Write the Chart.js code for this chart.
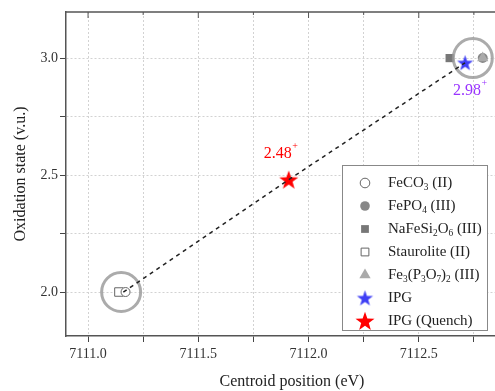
<!DOCTYPE html>
<html>
<head>
<meta charset="utf-8">
<script src="https://cdn.jsdelivr.net/npm/chart.js@4.4.1/dist/chart.umd.min.js"></script>
<style>
  html, body { margin: 0; padding: 0; background: #fff; overflow: hidden; }
  #wrap { position: relative; width: 530px; height: 391px; }
</style>
</head>
<body>
<div id="wrap"><canvas id="chart"></canvas></div>
<script>
// dados
const xTicks = [7111.0, 7111.25, 7111.5, 7111.75, 7112.0, 7112.25, 7112.5, 7112.75];
const yTicks = [2.0, 2.25, 2.5, 2.75, 3.0];

const seriesNames = ['FeCO_3 (II)', 'FePO_4 (III)', 'NaFeSi_2O_6 (III)', 'Staurolite (II)',
                     'Fe_3(P_3O_7)_2 (III)', 'IPG', 'IPG (Quench)'];

const feco3X = [7111.17],   feco3Y = [2.0];
const fepo4X = [7112.79],   fepo4Y = [3.0];
const nafesiX = [7112.64],  nafesiY = [3.0];
const stauroX = [7111.14],  stauroY = [2.0];
const fe3X = [7112.79],     fe3Y = [3.0];
const ipgX = [7112.71],     ipgY = [2.98];
const quenchX = [7111.91],  quenchY = [2.48];

// linha tracejada e círculos de destaque
const trendX = [7111.16, 7111.91, 7112.71];
const trendY = [2.0, 2.48, 2.98];
const ringX = [7111.15, 7112.745];
const ringY = [2.0, 3.0];

const valueLabels = ['2.48', '2.98'];

const FONT = "'Liberation Serif', 'Times New Roman', serif";

function pts(xs, ys) {
    return xs.map((x, i) => ({ x: x, y: ys[i] }));
}

// estrela de 5 pontas preenchida (o 'star' do Chart.js é só traço)
function makeStar(r, color) {
    const c = document.createElement('canvas');
    const s = Math.ceil(r * 2 + 2);
    c.width = s; c.height = s;
    const g = c.getContext('2d');
    g.translate(s / 2, s / 2 + r * 0.08);
    g.beginPath();
    for (let i = 0; i < 10; i++) {
        const rad = i % 2 === 0 ? r : r * 0.4;
        const a = -Math.PI / 2 + i * Math.PI / 5;
        g.lineTo(Math.cos(a) * rad, Math.sin(a) * rad);
    }
    g.closePath();
    g.fillStyle = color;
    g.fill();
    return c;
}

const blueStar = makeStar(8.5, '#3f3ff5');
const redStar = makeStar(10, '#ff0000');

// texto com subscrito: "_3" vira índice
function drawRich(ctx, str, x, y, size) {
    const parts = str.split(/(_\d)/);
    let cx = x;
    parts.forEach(p => {
        if (!p) return;
        if (p[0] === '_') {
            ctx.font = (size * 0.62) + 'px ' + FONT;
            ctx.fillText(p.slice(1), cx, y + size * 0.32);
            cx += ctx.measureText(p.slice(1)).width;
        } else {
            ctx.font = size + 'px ' + FONT;
            ctx.fillText(p, cx, y);
            cx += ctx.measureText(p).width;
        }
    });
    return cx;
}

const datasets = [
    { label: 'trend', data: pts(trendX, trendY), showLine: true, borderColor: '#222',
      borderWidth: 1.5, borderDash: [4, 4], pointRadius: 0, order: 0 },
    { label: 'ring', data: pts(ringX, ringY), pointStyle: 'circle', pointRadius: 19.5,
      borderWidth: 3, borderColor: 'rgba(150,150,150,0.8)', backgroundColor: 'rgba(0,0,0,0)', order: 1 },
    { label: seriesNames[0], data: pts(feco3X, feco3Y), pointStyle: 'circle', pointRadius: 4.5,
      borderWidth: 1, borderColor: '#666', backgroundColor: '#fff', order: 3 },
    { label: seriesNames[1], data: pts(fepo4X, fepo4Y), pointStyle: 'circle', pointRadius: 5,
      borderWidth: 0, borderColor: '#888', backgroundColor: '#888', order: 4 },
    { label: seriesNames[2], data: pts(nafesiX, nafesiY), pointStyle: 'rect', pointRadius: 5.8,
      borderWidth: 0, borderColor: '#777', backgroundColor: '#777', order: 4 },
    { label: seriesNames[3], data: pts(stauroX, stauroY), pointStyle: 'rect', pointRadius: 6,
      borderWidth: 1, borderColor: '#666', backgroundColor: '#fff', order: 5 },
    { label: seriesNames[4], data: pts(fe3X, fe3Y), pointStyle: 'triangle', pointRadius: 6.5,
      borderWidth: 0, borderColor: '#aaa', backgroundColor: '#aaa', order: 3 },
    { label: seriesNames[5], data: pts(ipgX, ipgY), pointStyle: blueStar, pointRadius: 8,
      order: 2, labelColor: '#9933ff', labelDx: 2, labelDy: 28, valueText: valueLabels[1] },
    { label: seriesNames[6], data: pts(quenchX, quenchY), pointStyle: redStar, pointRadius: 9,
      order: 2, labelColor: '#ff0000', labelDx: -11, labelDy: -26, valueText: valueLabels[0] }
];

// legenda própria (precisa de subscrito) + moldura superior + rótulos 2.48+/2.98+
const extrasPlugin = {
    id: 'extras',
    afterDatasetsDraw(chart) {
        const ctx = chart.ctx;
        const area = chart.chartArea;
        const xs = chart.scales.x;
        ctx.save();

        // borda superior e ticks internos
        ctx.strokeStyle = '#555';
        ctx.lineWidth = 1.5;
        ctx.beginPath();
        ctx.moveTo(area.left, area.top);
        ctx.lineTo(area.right, area.top);
        ctx.stroke();
        ctx.lineWidth = 1;
        xTicks.forEach(v => {
            const px = xs.getPixelForValue(v);
            const len = Math.abs(v * 2 - Math.round(v * 2)) < 1e-6 ? 6 : 3;
            ctx.beginPath();
            ctx.moveTo(px, area.top);
            ctx.lineTo(px, area.top + len);
            ctx.stroke();
        });

        // rótulos de valor com "+" sobrescrito
        chart.data.datasets.forEach((ds, i) => {
            if (!ds.valueText) return;
            const el = chart.getDatasetMeta(i).data[0];
            ctx.fillStyle = ds.labelColor;
            ctx.font = '16px ' + FONT;
            ctx.textBaseline = 'middle';
            const w = ctx.measureText(ds.valueText).width;
            const tx = el.x + ds.labelDx - w / 2;
            const ty = el.y + ds.labelDy;
            ctx.fillText(ds.valueText, tx, ty);
            ctx.font = '10px ' + FONT;
            ctx.fillText('+', tx + w + 0.5, ty - 7);
        });

        // caixa da legenda
        const box = { left: 342, top: 165, width: 145, height: 165 };
        ctx.fillStyle = '#fff';
        ctx.fillRect(box.left, box.top, box.width, box.height);
        ctx.strokeStyle = '#888';
        ctx.lineWidth = 1;
        ctx.strokeRect(box.left + 0.5, box.top + 0.5, box.width, box.height);

        const items = chart.data.datasets.filter(ds => seriesNames.includes(ds.label));
        items.forEach((ds, k) => {
            const y = box.top + 18 + k * 23;
            const mx = box.left + 23;
            ctx.fillStyle = ds.backgroundColor || '#000';
            ctx.strokeStyle = ds.borderColor || '#000';
            ctx.lineWidth = ds.borderWidth || 0;
            Chart.helpers.drawPoint(ctx, {
                pointStyle: ds.pointStyle, rotation: 0,
                radius: ds.pointStyle === 'circle' ? 4.8 : (ds.pointStyle === 'rect' ? 5.5 : ds.pointRadius),
                borderWidth: ds.borderWidth || 0
            }, mx, y);
            ctx.fillStyle = '#222';
            ctx.textBaseline = 'middle';
            drawRich(ctx, ds.label, box.left + 46, y, 15);
        });
        ctx.restore();
    }
};

const ctx = document.getElementById('chart').getContext('2d');
const chart = new Chart(ctx, {
    type: 'scatter',
    data: { datasets: datasets },
    options: {
        responsive: true,
        maintainAspectRatio: false,
        animation: false,
        layout: { autoPadding: false, padding: { top: 12, right: 12, left: 0, bottom: 0 } },
        plugins: { legend: { display: false }, tooltip: { enabled: false } },
        scales: {
            x: {
                type: 'linear',
                min: 7110.9,
                max: 7112.95,
                afterBuildTicks: s => { s.ticks = xTicks.map(v => ({ value: v })); },
                afterFit: s => { s.height = 55; },
                ticks: {
                    autoSkip: false, maxRotation: 0, padding: 4,
                    color: '#333', font: { family: FONT, size: 14 },
                    callback: v => Math.abs(v * 2 - Math.round(v * 2)) < 1e-6 ? v.toFixed(1) : ''
                },
                grid: { color: '#d2d2d2', tickColor: '#444', tickBorderDash: [],
                        tickLength: 6, tickWidth: 1 },
                border: { color: '#555', width: 1.5, dash: [2, 2] },
                title: { display: true, text: 'Centroid position (eV)', color: '#222',
                         font: { family: FONT, size: 16 }, padding: { top: 0, bottom: 0 } }
            },
            y: {
                type: 'linear',
                min: 1.812,
                max: 3.197,
                afterBuildTicks: s => { s.ticks = yTicks.map(v => ({ value: v })); },
                afterFit: s => { s.width = 66; },
                ticks: {
                    autoSkip: false, padding: 2,
                    color: '#333', font: { family: FONT, size: 14 },
                    callback: v => Math.abs(v * 2 - Math.round(v * 2)) < 1e-6 ? v.toFixed(1) : ''
                },
                grid: { color: '#d2d2d2', tickColor: '#444', tickBorderDash: [],
                        tickLength: 6, tickWidth: 1 },
                border: { color: '#555', width: 1.5, dash: [2, 2] },
                title: { display: true, text: 'Oxidation state (v.u.)', color: '#222',
                         font: { family: FONT, size: 16 }, padding: { top: 11, bottom: 0 } }
            }
        }
    },
    plugins: [extrasPlugin]
});
</script>
</body>
</html>
